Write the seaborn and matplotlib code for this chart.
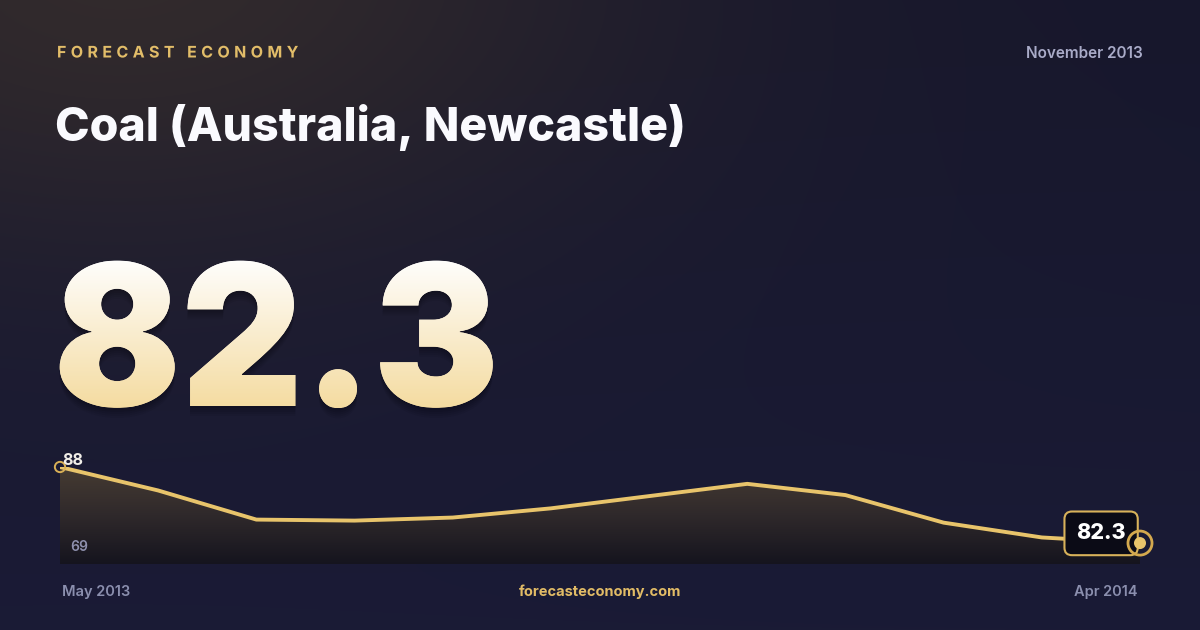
import numpy as np
import matplotlib
matplotlib.use('Agg')
import matplotlib.pyplot as plt
import seaborn as sns
from matplotlib.patheffects import AbstractPathEffect
from matplotlib.transforms import Bbox, Affine2D, IdentityTransform
from matplotlib.path import Path
from matplotlib.colors import to_rgb, LinearSegmentedColormap

# data
months = ['May 2013', 'Jun 2013', 'Jul 2013', 'Aug 2013', 'Sep 2013', 'Oct 2013',
          'Nov 2013', 'Dec 2013', 'Jan 2014', 'Feb 2014', 'Mar 2014', 'Apr 2014']
prices = [88.0, 83.4, 77.7, 77.5, 78.1, 79.9, 82.3, 84.7, 82.5, 77.1, 74.2, 73.1]
axis_min = 69
headline = '82.3'
headline_month = 'November 2013'
title = 'Coal (Australia, Newcastle)'
brand = 'FORECAST ECONOMY'
site = 'forecasteconomy.com'

GOLD = '#e8c46b'
W, H = 1200, 630

sns.set_theme(style='white')
plt.rcParams['font.family'] = ['Inter', 'DejaVu Sans']


class VGradient(AbstractPathEffect):
    """vertical colour gradient fill for a text, slightly narrowed, soft shadow"""

    def __init__(self, top, bottom, sx=1.0):
        super().__init__((0, 0))
        self.top = np.array(to_rgb(top))
        self.bottom = np.array(to_rgb(bottom))
        self.sx = sx

    def draw_path(self, renderer, gc, tpath, affine, rgbFace=None):
        ext = tpath.get_extents(affine)
        aff = affine + Affine2D().translate(-ext.x0, 0).scale(self.sx, 1).translate(ext.x0, 0)
        ext = tpath.get_extents(aff)
        # soft shadow
        for dy in (2, 4, 6, 8, 10):
            gs = renderer.new_gc()
            gs.copy_properties(gc)
            gs.set_alpha(0.06)
            gs.set_linewidth(0)
            renderer.draw_path(gs, tpath, aff + Affine2D().translate(0, -dy), (0, 0, 0))
            gs.restore()
        n = max(int(ext.height), 2)
        for i in range(n):
            ya = ext.y0 + ext.height * i / n
            yb = ext.y0 + ext.height * (i + 1) / n + 1
            t = (i + 0.5) / n
            col = tuple(self.bottom * (1 - t) + self.top * t)
            gc0 = renderer.new_gc()
            gc0.copy_properties(gc)
            gc0.set_clip_rectangle(Bbox([[ext.x0 - 3, ya], [ext.x1 + 3, yb]]))
            gc0.set_linewidth(0)
            renderer.draw_path(gc0, tpath, aff, col)
            gc0.restore()


class Tracking(AbstractPathEffect):
    """letter spacing: shift each glyph outline right by its index * spacing"""

    def __init__(self, spacing):
        super().__init__((0, 0))
        self.spacing = spacing

    def draw_path(self, renderer, gc, tpath, affine, rgbFace=None):
        p = affine.transform_path(tpath)
        verts, codes = p.vertices, p.codes
        starts = list(np.where(codes == Path.MOVETO)[0]) + [len(codes)]
        parts = [(verts[a:b], codes[a:b]) for a, b in zip(starts[:-1], starts[1:])]
        parts.sort(key=lambda q: q[0][:, 0].min())
        groups = []
        for v, c in parts:
            x0, x1 = v[:, 0].min(), v[:, 0].max()
            if groups and x0 < groups[-1][1] - 0.5:
                groups[-1][2].append((v, c))
                groups[-1][1] = max(groups[-1][1], x1)
            else:
                groups.append([x0, x1, [(v, c)]])
        gaps = [groups[k][0] - groups[k - 1][1] for k in range(1, len(groups))]
        med = np.median(gaps) if gaps else 0
        vs, cs = [], []
        shift = 0.0
        for k, (x0, _, items) in enumerate(groups):
            if k > 0:
                shift += self.spacing
                if gaps[k - 1] > max(2.5, 2 * med):  # word space gets spaced too
                    shift += self.spacing
            for v, c in items:
                vs.append(v + [shift, 0])
                cs.append(c)
        renderer.draw_path(gc, Path(np.concatenate(vs), np.concatenate(cs)),
                           IdentityTransform(), rgbFace)


fig = plt.figure(figsize=(W / 100, H / 100), dpi=100)

# background with warm glow top-left
bg = fig.add_axes([0, 0, 1, 1])
yy, xx = np.mgrid[0:H, 0:W]
base_top = np.array(to_rgb('#17172c'))
base_bot = np.array(to_rgb('#1a1b36'))
v = (yy / H)[..., None]
img = base_top * (1 - v) + base_bot * v
glow = np.exp(-(((xx - 120) / 520.0) ** 2 + ((yy + 40) / 300.0) ** 2))[..., None]
img = img * (1 - glow * 0.75) + np.array(to_rgb('#3b312c')) * glow * 0.75
bg.imshow(img, extent=(0, W, H, 0), aspect='auto', zorder=0)
bg.set_xlim(0, W)
bg.set_ylim(H, 0)
bg.axis('off')

# header
bg.text(57, 53, brand, color='#e2bd69', fontsize=11.5, fontweight='bold',
        ha='left', va='center', path_effects=[Tracking(4.4)])
bg.text(1143, 54, headline_month, color='#a9abc8', fontsize=11, fontweight='semibold',
        ha='right', va='center')
bg.text(55, 141, title, color='#fafafe', fontsize=33.5, fontweight='heavy',
        ha='left', va='baseline')

# big number
bg.text(53, 406, headline, fontsize=142, fontweight='black', ha='left', va='baseline',
        color='#f8ecd0', path_effects=[VGradient('#fefdfb', '#f4dba0', sx=0.955)])

# footer
bg.text(62, 592, months[0], color='#8b8fae', fontsize=10.5, fontweight='semibold',
        ha='left', va='center')
bg.text(1138, 592, months[-1], color='#8b8fae', fontsize=10.5, fontweight='semibold',
        ha='right', va='center')
bg.text(600, 592, site, color='#e2bc66', fontsize=10.5, fontweight='bold',
        ha='center', va='center')

# sparkline
ax = fig.add_axes([60 / W, (H - 564) / H, 1080 / W, 97 / H])
ax.patch.set_alpha(0)
idx = np.arange(len(prices))
top_val = max(prices)
ax.set_xlim(0, len(prices) - 1)
ax.set_ylim(axis_min, top_val)

poly = ax.fill_between(idx, prices, axis_min, color='none', lw=0)
cmap = LinearSegmentedColormap.from_list('area', ['#15141e', '#2f292b', '#463b32'])
grad = np.linspace(0, 1, 256)[:, None]
im = ax.imshow(grad, cmap=cmap, origin='lower', aspect='auto',
               extent=(0, len(prices) - 1, axis_min, top_val), zorder=1)
im.set_clip_path(poly.get_paths()[0], transform=ax.transData)

sns.lineplot(x=idx, y=prices, ax=ax, color=GOLD, lw=2.8, zorder=3)
ax.scatter([idx[0]], [prices[0]], s=55, facecolor='none', edgecolor='#d9b056',
           lw=1.4, zorder=4, clip_on=False)
ax.scatter([idx[-1]], [prices[-1]], s=300, facecolor='none', edgecolor='#d4a94e',
           lw=2, zorder=6, clip_on=False)
ax.scatter([idx[-1]], [prices[-1]], s=75, facecolor=GOLD, edgecolor='none',
           zorder=6, clip_on=False)

ax.annotate(f'{prices[0]:.0f}', xy=(idx[0], prices[0]), xytext=(1.5, 4.5),
            textcoords='offset points', color='#f1eee8', fontsize=11.5,
            fontweight='bold', ha='left', va='center', zorder=5)
ax.text(10 / 1080, (564 - 547) / 97, f'{axis_min}', transform=ax.transAxes,
        color='#8e90ad', fontsize=10, fontweight='semibold', ha='left', va='center')
ax.annotate(headline, xy=(idx[-1], prices[-1]), xytext=(-28, 7),
            textcoords='offset points', color='white', fontsize=15.5,
            fontweight='heavy', ha='center', va='center', zorder=5,
            bbox=dict(boxstyle='round,pad=0.55,rounding_size=0.35', fc='#0b0b16',
                      ec='#d8b25a', lw=1.5))
ax.axis('off')

fig.savefig('out.png', dpi=100)
